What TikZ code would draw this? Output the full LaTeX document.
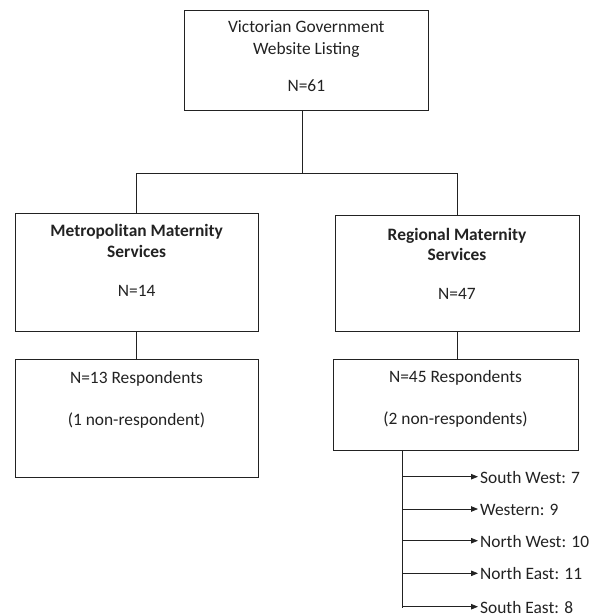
\documentclass[tikz,border=0pt]{standalone}
\usepackage{fontspec}
\setmainfont{Carlito}
\usetikzlibrary{arrows.meta,calc}
\definecolor{ink}{HTML}{222222}
\tikzset{
  x=1pt,y=1pt,
  box/.style={draw=ink, line width=0.8pt, rectangle, inner sep=0pt},
  txt/.style={anchor=base, inner sep=0pt, text=ink, font=\fontsize{17.4}{21}\selectfont},
  btxt/.style={txt, font=\fontsize{17.4}{21}\selectfont\bfseries},
  conn/.style={draw=ink, line width=0.8pt},
  arr/.style={conn, -{Triangle[length=7pt,width=5.5pt]}},
  lab/.style={anchor=west, inner xsep=2pt, inner ysep=0pt, text=ink, text height=12.6pt, text depth=0pt, font=\fontsize{17.4}{21}\selectfont}
}
\begin{document}
\begin{tikzpicture}
\useasboundingbox (0,0) rectangle (599,-615);
% boxes
\node[box, minimum width=244pt, minimum height=100pt] (top) at (306.3,-60) {};
\node[box, minimum width=243.3pt, minimum height=118.4pt] (metro) at (136.65,-272.5) {};
\node[box, minimum width=244pt, minimum height=116pt] (reg) at (457,-273.7) {};
\node[box, minimum width=243pt, minimum height=118pt] (metroR) at (136.5,-418) {};
\node[box, minimum width=245pt, minimum height=91pt] (regR) at (455.5,-404.5) {};
% texts
\node[txt] (t1) at (306.3,-33) {Victorian Government};
\node[txt] (t2) at (306.3,-55) {Website Listing};
\node[txt] (t3) at (306.3,-92) {N=61};
\node[btxt] (m1) at (136.65,-236.7) {Metropolitan Maternity};
\node[btxt] (m2) at (136.65,-257.7) {Services};
\node[txt] (m3) at (136.65,-296) {N=14};
\node[btxt] (r1) at (457,-240) {Regional Maternity};
\node[btxt] (r2) at (457,-260.7) {Services};
\node[txt] (r3) at (457,-299.3) {N=47};
\node[txt] (mr1) at (136.5,-383) {N=13 Respondents};
\node[txt] (mr2) at (136.5,-425) {(1 non-respondent)};
\node[txt] (rr1) at (455.5,-382) {N=45 Respondents};
\node[txt] (rr2) at (455.5,-424) {(2 non-respondents)};
% tree connectors
\coordinate (j) at (302.7,-173.3);
\draw[conn] (top.south -| j) -- (j);
\draw[conn] (j) -| (metro.north);
\draw[conn] (j) -| (reg.north);
\draw[conn] (metroR.north) -- (metroR.north |- metro.south);
\draw[conn] (reg.south) -- (reg.south |- regR.north);
% region list
\coordinate (sp1) at ($(regR.south west)+(70,0)$);
\node[lab] (l1) at (478,-476.7) {South West: 7};
\node[lab] (l2) at (478,-509) {Western: 9};
\node[lab] (l3) at (478,-540.7) {North West: 10};
\node[lab] (l4) at (478,-573.3) {North East: 11};
\node[lab] (l5) at (478,-606.7) {South East: 8};
\coordinate (sp2) at (sp1 |- 0,-608);
\draw[conn] (sp1) -- (sp2);
\foreach \n in {l1,l2,l3,l4,l5}
  \draw[arr] (\n.west -| sp1) -- (\n.west);
\end{tikzpicture}
\end{document}
